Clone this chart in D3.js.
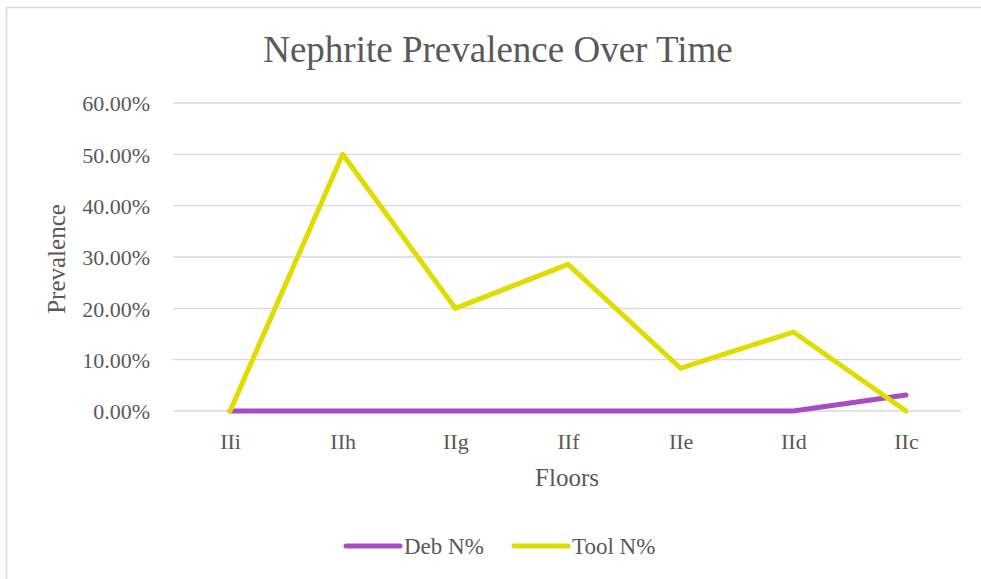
<!DOCTYPE html>
<html>
<head>
<meta charset="utf-8">
<script src="https://cdn.jsdelivr.net/npm/d3@7"></script>
<style>
  html, body { margin: 0; padding: 0; background: #fff; }
  svg { display: block; }
  text { font-family: "Liberation Serif", "Times New Roman", serif; fill: #595959; }
</style>
</head>
<body>
<svg id="chart" width="981" height="579"></svg>
<script>
// Floors, oldest to youngest
const floors = ["IIi", "IIh", "IIg", "IIf", "IIe", "IId", "IIc"];
// Nephrite share of debitage and tools per floor (fractions)
const debN = [0, 0, 0, 0, 0, 0, 0.031];
const toolN = [0, 0.50, 0.20, 0.2857, 0.0833, 0.1538, 0];
const yTicks = [0, 0.1, 0.2, 0.3, 0.4, 0.5, 0.6];

const series = [
  { name: "Deb N%", values: debN, color: "#a94cc4" },
  { name: "Tool N%", values: toolN, color: "#dfdc00" }
];

const svg = d3.select("#chart");
const W = 981, H = 579;

// chart frame (runs past the right and bottom edges of the view)
svg.append("rect")
  .attr("x", 6.5).attr("y", 7.5)
  .attr("width", W).attr("height", H)
  .attr("fill", "#fff").attr("stroke", "#d9d9d9").attr("stroke-width", 1.5);

const plot = { left: 173, right: 961, top: 103, bottom: 411 };

const x = d3.scalePoint().domain(floors)
  .range([230, 906]);
const y = d3.scaleLinear().domain([0, 0.6])
  .range([plot.bottom, plot.top]);

// title
svg.append("text")
  .attr("x", 498).attr("y", 62)
  .attr("text-anchor", "middle")
  .style("font-size", "37px")
  .text("Nephrite Prevalence Over Time");

// gridlines
svg.append("g")
  .selectAll("line")
  .data(yTicks)
  .join("line")
  .attr("x1", plot.left).attr("x2", plot.right)
  .attr("y1", d => y(d)).attr("y2", d => y(d))
  .attr("stroke", "#d9d9d9").attr("stroke-width", 1.3);

// y axis labels
const fmt = d3.format(".2%");
const yAxis = d3.axisLeft(y).tickValues(yTicks).tickFormat(fmt).tickSize(0).tickPadding(0);
svg.append("g")
  .attr("transform", `translate(150,0)`)
  .call(yAxis)
  .call(g => g.select(".domain").remove())
  .call(g => g.selectAll("text")
    .attr("dy", "0.36em")
    .style("font-size", "22px")
    .style("font-family", '"Liberation Serif", serif')
    .attr("fill", "#595959"));

// x axis labels
const xAxis = d3.axisBottom(x).tickSize(0).tickPadding(0);
svg.append("g")
  .attr("transform", `translate(0,${plot.bottom + 30})`)
  .call(xAxis)
  .call(g => g.select(".domain").remove())
  .call(g => g.selectAll("text")
    .attr("dy", "0.36em")
    .style("font-size", "22px")
    .style("font-family", '"Liberation Serif", serif')
    .attr("fill", "#595959"));

// axis titles
svg.append("text")
  .attr("x", 567).attr("y", 486)
  .attr("text-anchor", "middle")
  .style("font-size", "25px")
  .text("Floors");

svg.append("text")
  .attr("transform", `translate(65,259) rotate(-90)`)
  .attr("text-anchor", "middle")
  .style("font-size", "25px")
  .text("Prevalence");

// lines
const line = d3.line()
  .x((d, i) => x(floors[i]))
  .y(d => y(d));

svg.append("g")
  .selectAll("path")
  .data(series)
  .join("path")
  .attr("d", d => line(d.values))
  .attr("fill", "none")
  .attr("stroke", d => d.color)
  .attr("stroke-width", 5)
  .attr("stroke-linecap", "round")
  .attr("stroke-linejoin", "round");

// legend
const legend = svg.append("g");
const legendX = [346, 514];
series.forEach((s, i) => {
  const g = legend.append("g").attr("transform", `translate(${legendX[i]},546)`);
  g.append("line")
    .attr("x1", 0).attr("x2", 54)
    .attr("y1", 0).attr("y2", 0)
    .attr("stroke", s.color).attr("stroke-width", 5)
    .attr("stroke-linecap", "round");
  g.append("text")
    .attr("x", 58).attr("y", 0).attr("dy", "0.36em")
    .style("font-size", "23px")
    .text(s.name);
});
</script>
</body>
</html>
